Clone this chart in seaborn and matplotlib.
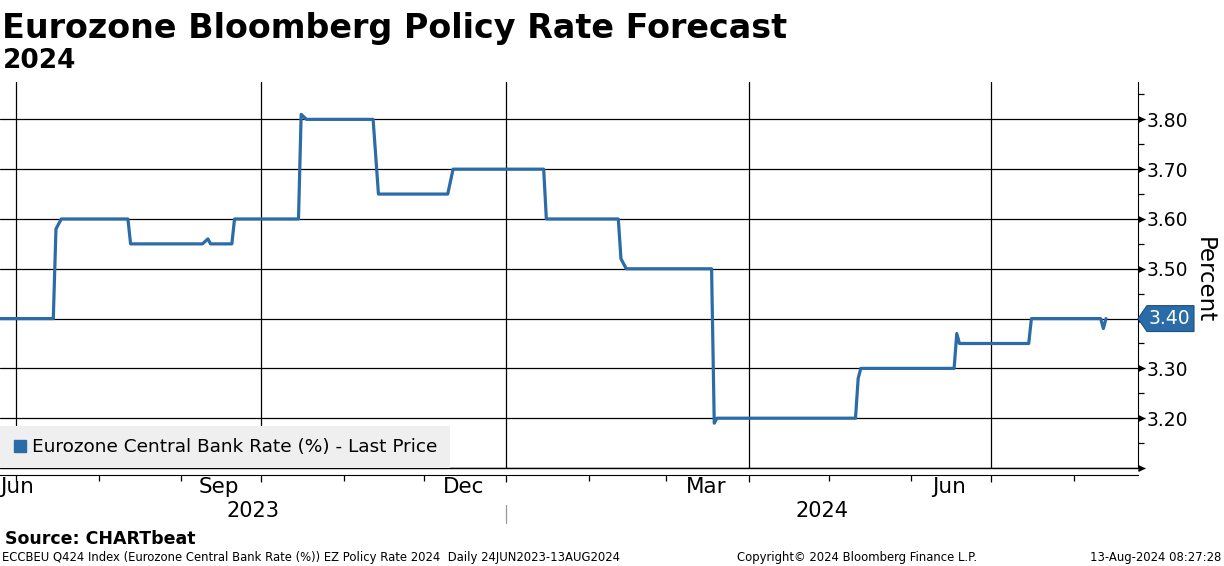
import numpy as np
import pandas as pd
import matplotlib
matplotlib.use("Agg")
import matplotlib.pyplot as plt
import matplotlib.dates as mdates
from matplotlib.lines import Line2D
from matplotlib.patches import Polygon
import seaborn as sns

# valores (pontos onde a série muda)
dates = ["2023-06-24", "2023-07-15", "2023-07-16", "2023-07-18", "2023-08-12", "2023-08-13",
         "2023-09-09", "2023-09-11", "2023-09-12", "2023-09-20", "2023-09-21", "2023-10-15",
         "2023-10-16", "2023-10-18", "2023-11-12", "2023-11-14", "2023-12-10", "2023-12-12",
         "2024-01-15", "2024-01-16", "2024-02-12", "2024-02-13", "2024-02-15", "2024-03-18",
         "2024-03-19", "2024-03-20", "2024-05-11", "2024-05-12", "2024-05-13", "2024-06-17",
         "2024-06-18", "2024-06-19", "2024-07-15", "2024-07-16", "2024-08-11", "2024-08-12",
         "2024-08-13"]
rates = [3.40, 3.40, 3.58, 3.60, 3.60, 3.55,
         3.55, 3.56, 3.55, 3.55, 3.60, 3.60,
         3.81, 3.80, 3.80, 3.65, 3.65, 3.70,
         3.70, 3.60, 3.60, 3.52, 3.50, 3.50,
         3.19, 3.20, 3.20, 3.28, 3.30, 3.30,
         3.37, 3.35, 3.35, 3.40, 3.40, 3.38,
         3.40]
yticks = [3.20, 3.30, 3.40, 3.50, 3.60, 3.70, 3.80]
month_labels = ["Jun", "Sep", "Dec", "Mar", "Jun"]
month_dates = ["2023-06-15", "2023-09-15", "2023-12-16", "2024-03-16", "2024-06-15"]
year_labels = ["2023", "2024"]
series_name = "Eurozone Central Bank Rate (%) - Last Price"

BLUE = "#2b6ca8"

sns.set_style("white")
plt.rcParams['font.family'] = ['DejaVu Sans']
plt.rcParams['text.color'] = 'black'
plt.rcParams['axes.labelcolor'] = 'black'
plt.rcParams['xtick.color'] = 'black'
plt.rcParams['ytick.color'] = 'black'

df = pd.DataFrame({'date': pd.to_datetime(dates), 'rate': rates})

fig = plt.figure(figsize=(12.24, 5.66), dpi=100)
ax = fig.add_axes([0, 98 / 566, 1138 / 1224, 386 / 566])

sns.lineplot(data=df, x='date', y='rate', ax=ax, color=BLUE, linewidth=2.3, zorder=5)

x0 = pd.Timestamp("2023-06-25")
x1 = pd.Timestamp("2024-08-25")
ax.set_xlim(x0, x1)
ax.set_ylim(3.10, 3.875)

# grade
ax.xaxis.set_major_locator(mdates.MonthLocator(bymonth=(1, 4, 7, 10)))
ax.xaxis.set_minor_locator(mdates.MonthLocator())
ax.xaxis.set_major_formatter(plt.NullFormatter())
ax.set_yticks(yticks + [3.10])
ax.yaxis.set_minor_locator(plt.FixedLocator(np.arange(3.15, 3.9, 0.1)))
ax.grid(True, which='major', color='black', linewidth=0.9)
ax.set_axisbelow(True)

for s in ['top', 'left']:
    ax.spines[s].set_visible(False)
ax.spines['right'].set_color('black')
ax.spines['bottom'].set_color('black')
ax.spines['bottom'].set_position(('outward', 5))
ax.axhline(3.10, color='black', linewidth=1.0, clip_on=False)

ax.yaxis.tick_right()
ax.tick_params(axis='y', which='major', length=5, width=0.9, color='black', pad=1.5,
               labelsize=13.5, labelcolor='black')
ax.tick_params(axis='y', which='minor', length=4, width=0.9, color='black', right=True)
ax.tick_params(axis='x', which='major', length=5, width=0.9, color='black', bottom=True)
ax.tick_params(axis='x', which='minor', length=4, width=0.9, color='black', bottom=True)
ax.set_yticklabels([("" if abs(v - rates[-1]) < 1e-9 else f"{v:.2f}") for v in yticks] + [""])
ax.set_xlabel("")
ax.set_ylabel("Percent", rotation=270, fontsize=16.5, va='center', ha='center', color='black')
ax.yaxis.set_label_position('right')
ax.yaxis.set_label_coords(1.0685, 0.487)

# setas nos ticks
tri = [(0, -0.5), (1, 0), (0, 0.5)]
ax.plot([1] * len(yticks), yticks, transform=ax.get_yaxis_transform(), marker=tri,
        markersize=8, color='black', linestyle='none', clip_on=False)
ax.plot([1], [3.10], transform=ax.get_yaxis_transform(), marker=tri,
        markersize=8, color='black', linestyle='none', clip_on=False)

# etiqueta do último valor
last = rates[-1]
w = ax.get_position().width * 1224
tag = Polygon([(1.0, last), (1 + 9 / w, last + 0.026), (1 + 56 / w, last + 0.026),
               (1 + 56 / w, last - 0.026), (1 + 9 / w, last - 0.026)],
              closed=True, transform=ax.get_yaxis_transform(), facecolor=BLUE,
              edgecolor='#1d4f80', linewidth=0.8, clip_on=False, zorder=10)
ax.add_patch(tag)
ax.text(1 + 31 / w, last, f"{last:.2f}", transform=ax.get_yaxis_transform(), color='white',
        fontsize=13.5, ha='center', va='center', zorder=11, clip_on=False)

# rótulos de meses e anos
xt = ax.get_xaxis_transform()
for lab, d in zip(month_labels, month_dates):
    d = pd.Timestamp(d)
    if d < x0:
        ax.text(x0, -0.049, lab, transform=xt, ha='left', va='center', fontsize=15.5)
    else:
        ax.text(d, -0.049, lab, transform=xt, ha='center', va='center', fontsize=15.5)
ybreak = pd.Timestamp("2024-01-01")
ax.text(x0 + (ybreak - x0) / 2, -0.111, year_labels[0], transform=xt, ha='center',
        va='center', fontsize=15)
ax.text(ybreak + (x1 - ybreak) / 2, -0.111, year_labels[1], transform=xt, ha='center',
        va='center', fontsize=15)
ax.plot([ybreak, ybreak], [-0.096, -0.142], transform=xt, color='#999999', linewidth=0.9,
        clip_on=False)

# legenda
handle = Line2D([], [], marker='s', color=BLUE, linestyle='none', markersize=9)
leg = ax.legend([handle], [series_name], loc='lower left', fontsize=13.3, frameon=True,
                facecolor='#efefef', edgecolor='none', fancybox=False, framealpha=1,
                borderaxespad=0, handletextpad=0.2, handlelength=0.9, borderpad=0.65)
leg.set_zorder(8)

# títulos e rodapé
fig.text(0.002, 1 - 38 / 566, "Eurozone Bloomberg Policy Rate Forecast", fontsize=24,
         fontweight='bold', va='baseline', ha='left')
fig.text(0.002, 1 - 68 / 566, "2024", fontsize=19, fontweight='bold', va='baseline', ha='left')
fig.text(0.004, 1 - 544 / 566, "Source: CHARTbeat", fontsize=12.5, fontweight='bold',
         va='baseline', ha='left')
fig.text(0.002, 1 - 561 / 566,
         "ECCBEU Q424 Index (Eurozone Central Bank Rate (%)) EZ Policy Rate 2024  Daily 24JUN2023-13AUG2024",
         fontsize=8.4, va='baseline', ha='left')
fig.text(737 / 1224, 1 - 561 / 566, "Copyright\u00a9 2024 Bloomberg Finance L.P.", fontsize=8.4,
         va='baseline', ha='left')
fig.text(0.998, 1 - 561 / 566, "13-Aug-2024 08:27:28", fontsize=8.4, va='baseline', ha='right')

fig.savefig("out.png", dpi=100, facecolor='white')
